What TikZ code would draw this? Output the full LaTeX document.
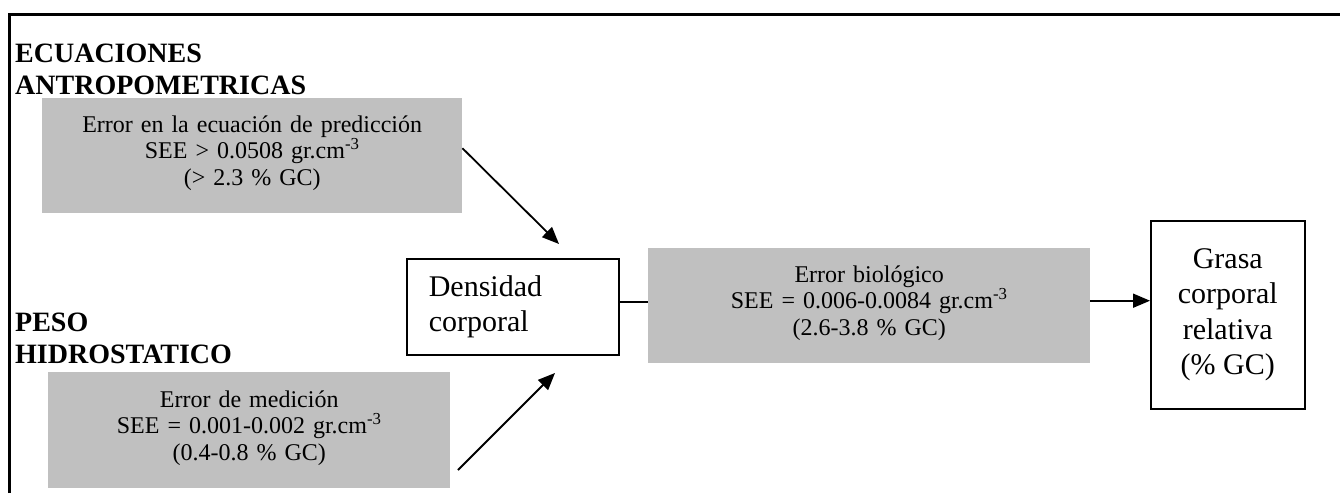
\documentclass[tikz,border=0pt]{standalone}
\usepackage{fontspec}
\setmainfont{Liberation Serif}
\usetikzlibrary{arrows.meta}
\definecolor{errgray}{HTML}{C0C0C0}
\tikzset{
  errbox/.style={fill=errgray, anchor=north west, inner xsep=0pt, inner ysep=0pt, align=center,
    text height=34pt, text depth=81pt, font=\fontsize{24}{26.5}\selectfont},
  valbox/.style={draw, line width=1.6pt, anchor=north west, font=\fontsize{30}{35.5}\selectfont},
  heading/.style={anchor=base west, inner sep=0pt, align=left, text width=330pt,
    font=\fontsize{28}{32}\selectfont\bfseries},
  flow/.style={line width=1.8pt, -{Triangle[length=17pt,width=14pt]}}
}
\begin{document}
\begin{tikzpicture}[x=1pt,y=-1pt]
\useasboundingbox (0,0) rectangle (1340,493);
\draw[line width=3pt] (9,493) -- (9,14) -- (1340,14);
\node[heading] (ecuhead) at (15,62) {ECUACIONES\\ANTROPOMETRICAS};
\node[heading] (pesohead) at (15,331) {PESO\\HIDROSTATICO};
\node[errbox, text width=420pt] (ecua) at (42,98) {Error en la ecuación de predicción\\SEE > 0.0508 gr.cm\textsuperscript{-3}\\(> 2.3 \% GC)};
\node[errbox, text width=402pt, text height=35pt, text depth=81pt] (medic) at (48,372) {Error de medición\\SEE = 0.001-0.002 gr.cm\textsuperscript{-3}\\(0.4-0.8 \% GC)};
\node[valbox, minimum width=212pt, minimum height=96pt, inner xsep=22pt, text width=168pt, align=left] (dens) at (406,258) {Densidad\\corporal};
\node[errbox, text width=442pt] (bio) at (648,248) {Error biológico\\SEE = 0.006-0.0084 gr.cm\textsuperscript{-3}\\(2.6-3.8 \% GC)};
\node[valbox, minimum width=154pt, minimum height=188pt, align=center] (grasa) at (1150,220) {Grasa\\corporal\\relativa\\(\% GC)};
\coordinate (densin1) at (559,244);
\coordinate (medicout) at (458,470);
\coordinate (densin2) at (555,373);
\draw[flow] ([yshift=7.5pt]ecua.east) -- (densin1);
\draw[flow] (medicout) -- (densin2);
\draw[line width=1.6pt] ([yshift=5pt]dens.east) -- ([yshift=5pt]dens.east -| bio.west);
\draw[flow] ([yshift=5pt]bio.east) -- ([yshift=5pt]bio.east -| grasa.west);
\end{tikzpicture}
\end{document}
